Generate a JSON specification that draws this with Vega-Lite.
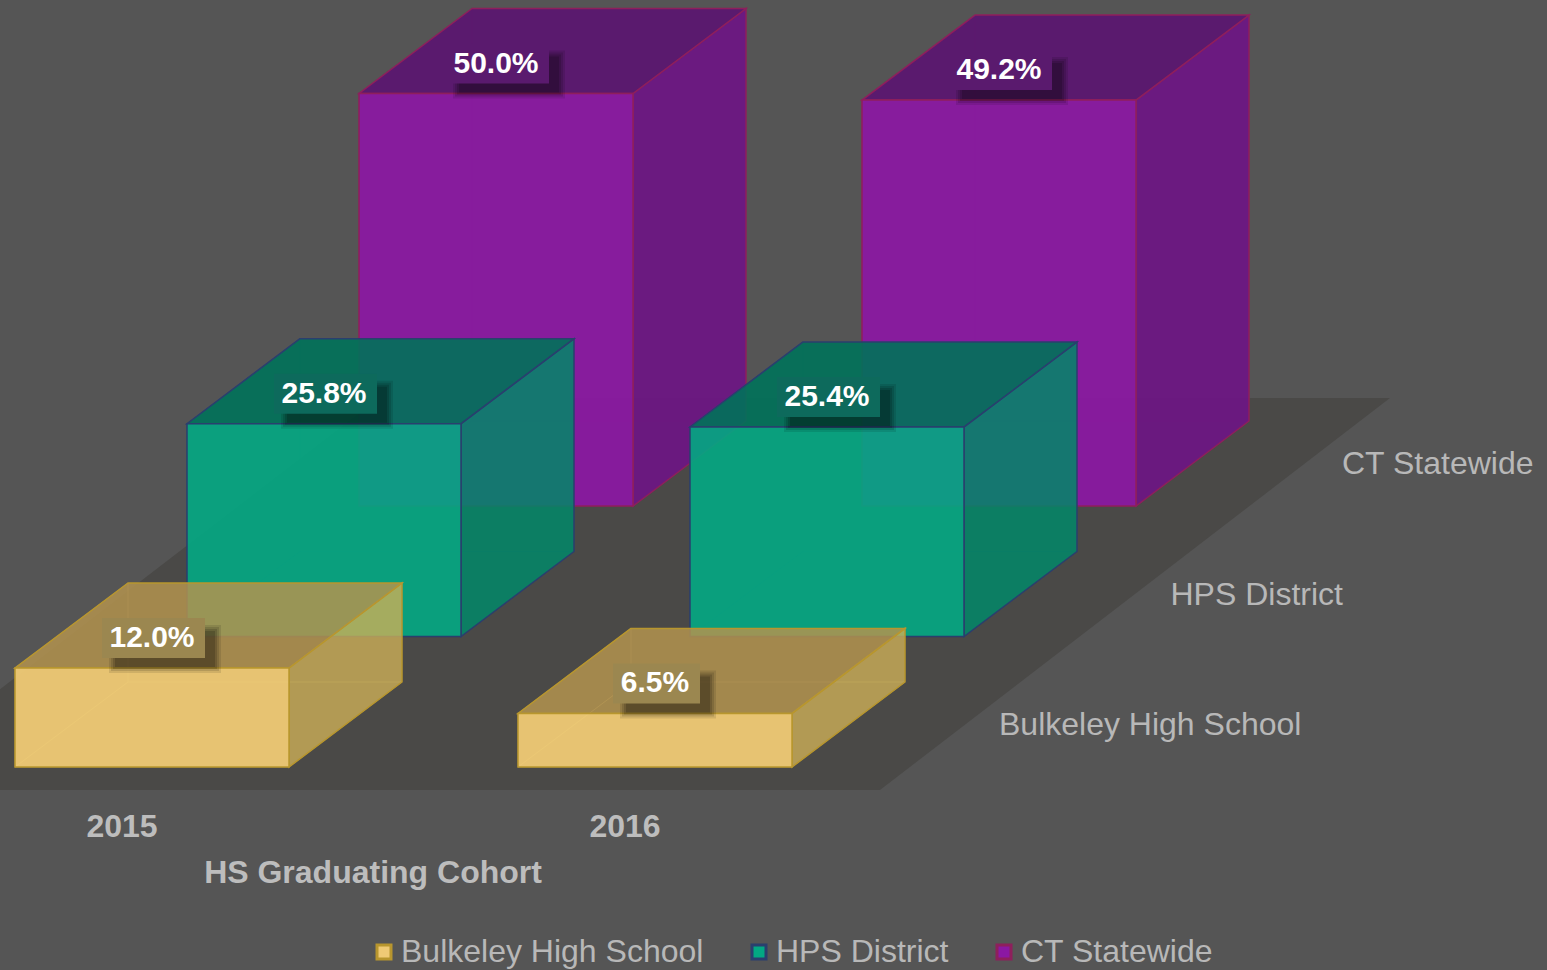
{
"$schema":"https://vega.github.io/schema/vega-lite/v6.json",
"width":1547,"height":970,"padding":0,"autosize":{"type":"none"},"background":"#555555",
"config":{"view":{"stroke":null},"legend":{"labelFont":"Liberation Sans","labelFontSize":32,"labelColor":"#B8B8B8","labelOffset":1,"symbolType":"square","symbolSize":196,"symbolStrokeWidth":3,"columnPadding":39,"labelLimit":500},"text":{"font":"Liberation Sans"}},
"data":{"values":[
{"year":"2015","series":"Bulkeley High School","value":12.0},
{"year":"2016","series":"Bulkeley High School","value":6.5},
{"year":"2015","series":"HPS District","value":25.8},
{"year":"2016","series":"HPS District","value":25.4},
{"year":"2015","series":"CT Statewide","value":50.0},
{"year":"2016","series":"CT Statewide","value":49.2}]},
"transform":[
{"calculate":"[0,1]","as":"t"},{"flatten":["t"]},
{"calculate":"datum.year==='2015'?0:1","as":"u"},
{"calculate":"indexof(['Bulkeley High School','HPS District','CT Statewide'],datum.series)","as":"d"},
{"calculate":"15+503*datum.u+172*datum.d","as":"x0"},
{"calculate":"datum.x0+274","as":"x1"},
{"calculate":"767-130.5*datum.d","as":"base"},
{"calculate":"datum.base-8.25*datum.value","as":"top"},
{"calculate":"datum.x0+113*datum.t","as":"bx"},
{"calculate":"datum.x1+113*datum.t","as":"bx2"},
{"calculate":"datum.base-85*datum.t","as":"ey"},
{"calculate":"datum.top-85*datum.t","as":"fy"},
{"calculate":"datum.x0+137","as":"cx"},
{"calculate":"datum.value>=10?0:8","as":"inset"},
{"calculate":"format(datum.value,'.1f')+'%'","as":"label"}
],
"layer":[
{"data":{"values":[{"part":"floor"},{"part":"floor"}]},
 "transform":[{"window":[{"op":"row_number","as":"n"}]},{"calculate":"datum.n-1","as":"t"},{"calculate":"790-392*datum.t","as":"fy"},{"calculate":"-131+510*datum.t","as":"fx"},{"calculate":"datum.fx+1011","as":"fx2"}],
 "mark":{"type":"area","orient":"horizontal","color":"#4A4947","clip":true},
 "encoding":{"y":{"field":"fy","type":"quantitative","scale":{"domain":[970,0]},"axis":null},
  "x":{"field":"fx","type":"quantitative","scale":{"domain":[0,1547]},"axis":null},"x2":{"field":"fx2"}}},

{"transform":[{"filter":"datum.series==='CT Statewide'"}],"layer":[
 {"mark":{"type":"area","orient":"vertical","fillOpacity":0,"stroke":"#8E1F5C","strokeOpacity":0.3,"strokeWidth":1},"encoding":{"x":{"field":"bx","type":"quantitative","scale":{"domain":[0,1547]},"axis":null},"y":{"field":"fy","type":"quantitative","scale":{"domain":[970,0]},"axis":null},"y2":{"field":"ey"},"detail":{"field":"year"}}},
 {"mark":{"type":"area","orient":"horizontal","fillOpacity":0,"stroke":"#8E1F5C","strokeOpacity":0.3,"strokeWidth":1},"encoding":{"y":{"field":"ey","type":"quantitative","scale":{"domain":[970,0]},"axis":null},"x":{"field":"bx","type":"quantitative","scale":{"domain":[0,1547]},"axis":null},"x2":{"field":"bx2"},"detail":{"field":"year"}}},
 {"mark":{"type":"area","orient":"vertical","color":"#6E1485","fillOpacity":0.9,"stroke":"#8E1F5C","strokeWidth":1.5},"encoding":{"x":{"field":"bx2","type":"quantitative","scale":{"domain":[0,1547]},"axis":null},"y":{"field":"fy","type":"quantitative","scale":{"domain":[970,0]},"axis":null},"y2":{"field":"ey"},"detail":{"field":"year"}}},
 {"mark":{"type":"area","orient":"horizontal","color":"#5B1471","fillOpacity":0.9,"stroke":"#8E1F5C","strokeWidth":1.5},"encoding":{"y":{"field":"fy","type":"quantitative","scale":{"domain":[970,0]},"axis":null},"x":{"field":"bx","type":"quantitative","scale":{"domain":[0,1547]},"axis":null},"x2":{"field":"bx2"},"detail":{"field":"year"}}},
 {"transform":[{"filter":"datum.t===0"}],"mark":{"type":"rect","fillOpacity":0.93,"strokeWidth":1.5},"encoding":{"x":{"field":"x0","type":"quantitative","scale":{"domain":[0,1547]},"axis":null},"x2":{"field":"x1"},"y":{"field":"top","type":"quantitative","scale":{"domain":[970,0]},"axis":null},"y2":{"field":"base"},
  "fill":{"field":"series","type":"nominal","scale":{"domain":["Bulkeley High School","HPS District","CT Statewide"],"range":["#EFCA75","#03A883","#8B18A3"]},"legend":{"title":null,"orient":"none","direction":"horizontal","columns":3,"legendX":368,"legendY":936}},
  "stroke":{"field":"series","type":"nominal","scale":{"domain":["Bulkeley High School","HPS District","CT Statewide"],"range":["#B8962E","#2A3F6E","#8E1F5C"]},"legend":{"title":null,"orient":"none","direction":"horizontal","columns":3,"legendX":368,"legendY":936}}}}
]},

{"transform":[{"filter":"datum.series==='HPS District'"}],"layer":[
 {"mark":{"type":"area","orient":"vertical","fillOpacity":0,"stroke":"#2A3F6E","strokeOpacity":0.3,"strokeWidth":1},"encoding":{"x":{"field":"bx","type":"quantitative","scale":{"domain":[0,1547]},"axis":null},"y":{"field":"fy","type":"quantitative","scale":{"domain":[970,0]},"axis":null},"y2":{"field":"ey"},"detail":{"field":"year"}}},
 {"mark":{"type":"area","orient":"horizontal","fillOpacity":0,"stroke":"#2A3F6E","strokeOpacity":0.3,"strokeWidth":1},"encoding":{"y":{"field":"ey","type":"quantitative","scale":{"domain":[970,0]},"axis":null},"x":{"field":"bx","type":"quantitative","scale":{"domain":[0,1547]},"axis":null},"x2":{"field":"bx2"},"detail":{"field":"year"}}},
 {"mark":{"type":"area","orient":"vertical","color":"#018768","fillOpacity":0.85,"stroke":"#2A3F6E","strokeWidth":1.5},"encoding":{"x":{"field":"bx2","type":"quantitative","scale":{"domain":[0,1547]},"axis":null},"y":{"field":"fy","type":"quantitative","scale":{"domain":[970,0]},"axis":null},"y2":{"field":"ey"},"detail":{"field":"year"}}},
 {"mark":{"type":"area","orient":"horizontal","color":"#00725A","fillOpacity":0.9,"stroke":"#2A3F6E","strokeWidth":1.5},"encoding":{"y":{"field":"fy","type":"quantitative","scale":{"domain":[970,0]},"axis":null},"x":{"field":"bx","type":"quantitative","scale":{"domain":[0,1547]},"axis":null},"x2":{"field":"bx2"},"detail":{"field":"year"}}},
 {"transform":[{"filter":"datum.t===0"}],"mark":{"type":"rect","fillOpacity":0.9,"strokeWidth":1.5},"encoding":{"x":{"field":"x0","type":"quantitative","scale":{"domain":[0,1547]},"axis":null},"x2":{"field":"x1"},"y":{"field":"top","type":"quantitative","scale":{"domain":[970,0]},"axis":null},"y2":{"field":"base"},
  "fill":{"field":"series","type":"nominal","scale":{"domain":["Bulkeley High School","HPS District","CT Statewide"],"range":["#EFCA75","#03A883","#8B18A3"]}},
  "stroke":{"field":"series","type":"nominal","scale":{"domain":["Bulkeley High School","HPS District","CT Statewide"],"range":["#B8962E","#2A3F6E","#8E1F5C"]}}}}
]},

{"transform":[{"filter":"datum.series==='Bulkeley High School'"}],"layer":[
 {"mark":{"type":"area","orient":"vertical","fillOpacity":0,"stroke":"#F5D77F","strokeOpacity":0.3,"strokeWidth":1},"encoding":{"x":{"field":"bx","type":"quantitative","scale":{"domain":[0,1547]},"axis":null},"y":{"field":"fy","type":"quantitative","scale":{"domain":[970,0]},"axis":null},"y2":{"field":"ey"},"detail":{"field":"year"}}},
 {"mark":{"type":"area","orient":"horizontal","fillOpacity":0,"stroke":"#F5D77F","strokeOpacity":0.3,"strokeWidth":1},"encoding":{"y":{"field":"ey","type":"quantitative","scale":{"domain":[970,0]},"axis":null},"x":{"field":"bx","type":"quantitative","scale":{"domain":[0,1547]},"axis":null},"x2":{"field":"bx2"},"detail":{"field":"year"}}},
 {"mark":{"type":"area","orient":"vertical","color":"#CCAF57","fillOpacity":0.8,"stroke":"#B8962E","strokeWidth":1.5},"encoding":{"x":{"field":"bx2","type":"quantitative","scale":{"domain":[0,1547]},"axis":null},"y":{"field":"fy","type":"quantitative","scale":{"domain":[970,0]},"axis":null},"y2":{"field":"ey"},"detail":{"field":"year"}}},
 {"mark":{"type":"area","orient":"horizontal","color":"#B3934F","fillOpacity":0.85,"stroke":"#B8962E","strokeWidth":1.5},"encoding":{"y":{"field":"fy","type":"quantitative","scale":{"domain":[970,0]},"axis":null},"x":{"field":"bx","type":"quantitative","scale":{"domain":[0,1547]},"axis":null},"x2":{"field":"bx2"},"detail":{"field":"year"}}},
 {"transform":[{"filter":"datum.t===0"}],"mark":{"type":"rect","fillOpacity":0.95,"strokeWidth":1.5},"encoding":{"x":{"field":"x0","type":"quantitative","scale":{"domain":[0,1547]},"axis":null},"x2":{"field":"x1"},"y":{"field":"top","type":"quantitative","scale":{"domain":[970,0]},"axis":null},"y2":{"field":"base"},
  "fill":{"field":"series","type":"nominal","scale":{"domain":["Bulkeley High School","HPS District","CT Statewide"],"range":["#EFCA75","#03A883","#8B18A3"]}},
  "stroke":{"field":"series","type":"nominal","scale":{"domain":["Bulkeley High School","HPS District","CT Statewide"],"range":["#B8962E","#2A3F6E","#8E1F5C"]}}}}
]},

{"transform":[{"filter":"datum.t===0"},{"calculate":"datum.cx-43+datum.inset","as":"s1"},{"calculate":"datum.cx+69-datum.inset","as":"s2"},{"calculate":"datum.top-43","as":"s3"},{"calculate":"datum.top+5","as":"s4"}],
 "mark":{"type":"rect","color":"#000000","opacity":0.1},
 "encoding":{"x":{"field":"s1","type":"quantitative","scale":{"domain":[0,1547]},"axis":null},"x2":{"field":"s2"},"y":{"field":"s3","type":"quantitative","scale":{"domain":[970,0]},"axis":null},"y2":{"field":"s4"}}},
{"transform":[{"filter":"datum.t===0"},{"calculate":"datum.cx-41+datum.inset","as":"s1"},{"calculate":"datum.cx+67-datum.inset","as":"s2"},{"calculate":"datum.top-41","as":"s3"},{"calculate":"datum.top+3","as":"s4"}],
 "mark":{"type":"rect","color":"#000000","opacity":0.12},
 "encoding":{"x":{"field":"s1","type":"quantitative","scale":{"domain":[0,1547]},"axis":null},"x2":{"field":"s2"},"y":{"field":"s3","type":"quantitative","scale":{"domain":[970,0]},"axis":null},"y2":{"field":"s4"}}},
{"transform":[{"filter":"datum.t===0"},{"calculate":"datum.cx-39+datum.inset","as":"s1"},{"calculate":"datum.cx+65-datum.inset","as":"s2"},{"calculate":"datum.top-39","as":"s3"},{"calculate":"datum.top+1","as":"s4"}],
 "mark":{"type":"rect","color":"#000000","opacity":0.14},
 "encoding":{"x":{"field":"s1","type":"quantitative","scale":{"domain":[0,1547]},"axis":null},"x2":{"field":"s2"},"y":{"field":"s3","type":"quantitative","scale":{"domain":[970,0]},"axis":null},"y2":{"field":"s4"}}},
{"transform":[{"filter":"datum.t===0"},{"calculate":"datum.cx-37+datum.inset","as":"s1"},{"calculate":"datum.cx+63-datum.inset","as":"s2"},{"calculate":"datum.top-37","as":"s3"},{"calculate":"datum.top-1","as":"s4"}],
 "mark":{"type":"rect","color":"#000000","opacity":0.16},
 "encoding":{"x":{"field":"s1","type":"quantitative","scale":{"domain":[0,1547]},"axis":null},"x2":{"field":"s2"},"y":{"field":"s3","type":"quantitative","scale":{"domain":[970,0]},"axis":null},"y2":{"field":"s4"}}},
{"transform":[{"filter":"datum.t===0"},{"calculate":"datum.cx-50+datum.inset","as":"s1"},{"calculate":"datum.cx+53-datum.inset","as":"s2"},{"calculate":"datum.top-50","as":"s3"},{"calculate":"datum.top-10","as":"s4"}],
 "mark":{"type":"rect"},
 "encoding":{"x":{"field":"s1","type":"quantitative","scale":{"domain":[0,1547]},"axis":null},"x2":{"field":"s2"},"y":{"field":"s3","type":"quantitative","scale":{"domain":[970,0]},"axis":null},"y2":{"field":"s4"},
  "fill":{"condition":[{"test":"datum.series==='CT Statewide'","value":"#5A1A6E"},{"test":"datum.series==='HPS District'","value":"#0D6A5C"}],"value":"#9B8750"}}},
{"transform":[{"filter":"datum.t===0"},{"calculate":"datum.top-30","as":"ly"}],
 "mark":{"type":"text","color":"#FFFFFF","fontWeight":"bold","fontSize":30,"baseline":"middle","align":"center"},
 "encoding":{"x":{"field":"cx","type":"quantitative","scale":{"domain":[0,1547]},"axis":null},"y":{"field":"ly","type":"quantitative","scale":{"domain":[970,0]},"axis":null},"text":{"field":"label"}}},
{"transform":[{"filter":"datum.t===0 && datum.d===0"},{"calculate":"datum.x0+107","as":"lx"},{"calculate":"827","as":"ly"}],
 "mark":{"type":"text","color":"#BDBDBD","fontWeight":"bold","fontSize":32,"baseline":"middle","align":"center"},
 "encoding":{"x":{"field":"lx","type":"quantitative","scale":{"domain":[0,1547]},"axis":null},"y":{"field":"ly","type":"quantitative","scale":{"domain":[970,0]},"axis":null},"text":{"field":"year"}}},
{"transform":[{"filter":"datum.t===0 && datum.u===0"},{"calculate":"999+171.5*datum.d","as":"lx"},{"calculate":"725-130.5*datum.d","as":"ly"}],
 "mark":{"type":"text","color":"#B8B8B8","fontSize":32,"baseline":"middle","align":"left"},
 "encoding":{"x":{"field":"lx","type":"quantitative","scale":{"domain":[0,1547]},"axis":null},"y":{"field":"ly","type":"quantitative","scale":{"domain":[970,0]},"axis":null},"text":{"field":"series"}}},
{"data":{"values":[{"axisTitle":"HS Graduating Cohort"}]},
 "transform":[{"calculate":"373","as":"lx"},{"calculate":"873","as":"ly"}],
 "mark":{"type":"text","color":"#BDBDBD","fontWeight":"bold","fontSize":32,"baseline":"middle","align":"center"},
 "encoding":{"x":{"field":"lx","type":"quantitative","scale":{"domain":[0,1547]},"axis":null},"y":{"field":"ly","type":"quantitative","scale":{"domain":[970,0]},"axis":null},"text":{"field":"axisTitle"}}}
]
}
